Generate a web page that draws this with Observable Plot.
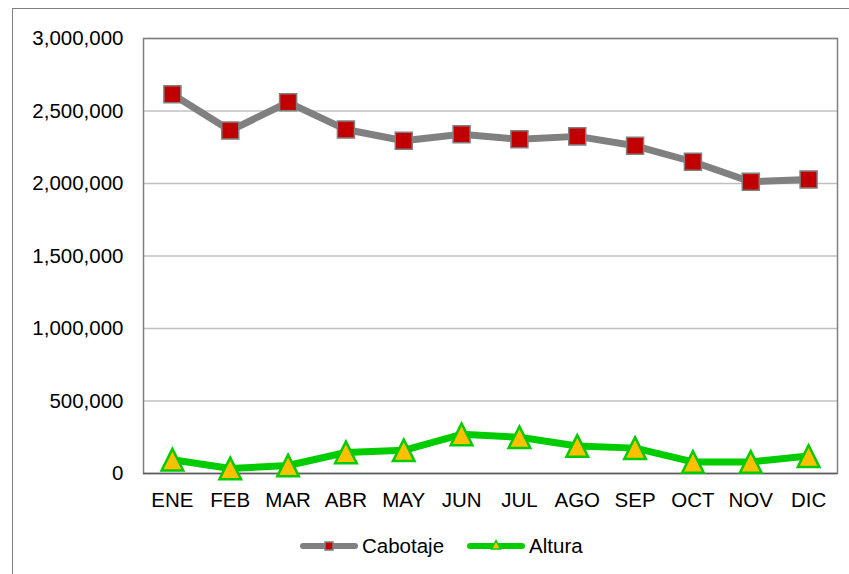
<!DOCTYPE html>
<html>
<head>
<meta charset="utf-8">
<script src="https://cdn.jsdelivr.net/npm/d3@7"></script>
<script src="https://cdn.jsdelivr.net/npm/@observablehq/plot@0.6"></script>
<style>
  html, body { margin: 0; padding: 0; background: #fff; }
  body { width: 849px; height: 574px; position: relative; overflow: hidden; font-family: "Liberation Sans", Arial, sans-serif; }
  #frame { position: absolute; left: 12px; top: 8px; width: 900px; height: 700px; border-left: 1px solid #808080; border-top: 1px solid #808080; box-sizing: border-box; }
  #chart { position: absolute; left: 0; top: 0; }
  #legend { position: absolute; left: 300px; top: 533px; height: 26px; display: flex; align-items: center; font-size: 20.5px; color: #000; }
  #legend .item { display: flex; align-items: center; }
  #legend svg { display: block; }
</style>
</head>
<body>
<div id="frame"></div>
<div id="chart"></div>
<div id="legend"></div>
<script>
const months = ["ENE","FEB","MAR","ABR","MAY","JUN","JUL","AGO","SEP","OCT","NOV","DIC"];
const cabotaje = [2615000, 2365000, 2560000, 2372000, 2295000, 2340000, 2305000, 2325000, 2260000, 2150000, 2012000, 2028000];
const altura = [95000, 35000, 55000, 145000, 160000, 270000, 250000, 190000, 175000, 80000, 80000, 120000];
const seriesNames = ["Cabotaje", "Altura"];
const yTicks = [0, 500000, 1000000, 1500000, 2000000, 2500000, 3000000];

const rows = [];
months.forEach((m, i) => {
  rows.push({month: m, series: "Cabotaje", value: cabotaje[i]});
  rows.push({month: m, series: "Altura", value: altura[i]});
});
const cab = rows.filter(d => d.series === "Cabotaje");
const alt = rows.filter(d => d.series === "Altura");

const squareSym = {draw(ctx, size) { const s = Math.sqrt(size); ctx.rect(-s/2, -s/2, s, s); }};
const triSym = {draw(ctx, size) { const s = Math.sqrt(size); ctx.moveTo(0, -s/2); ctx.lineTo(s/2, s/2); ctx.lineTo(-s/2, s/2); ctx.closePath(); }};

const chart = Plot.plot({
  width: 849,
  height: 520,
  marginLeft: 143,
  marginRight: 12,
  marginTop: 38,
  marginBottom: 47,
  style: {fontFamily: "'Liberation Sans', Arial, sans-serif", fontSize: "20.5px", color: "#000", background: "transparent"},
  x: {type: "point", domain: months, padding: 0.5, round: false, label: null},
  y: {domain: [0, 3000000], label: null},
  marks: [
    Plot.ruleY(yTicks.filter(t => t > 0), {stroke: "#c0c0c0", strokeWidth: 1.5}),
    Plot.frame({stroke: "#808080", strokeWidth: 1.5}),
    Plot.ruleY([0], {stroke: "#5a5a5a", strokeWidth: 1.5}),
    Plot.axisY({ticks: yTicks, tickSize: 0, tickPadding: 20, tickFormat: d3.format(","), fontSize: 20.5, label: null}),
    Plot.axisX({tickSize: 0, tickPadding: 19, fontSize: 20.5, label: null}),
    Plot.line(cab, {x: "month", y: "value", stroke: "#808080", strokeWidth: 7, strokeLinejoin: "round"}),
    Plot.dot(cab, {x: "month", y: "value", symbol: squareSym, r: 9.6, fill: "#c00000", stroke: "#808080", strokeWidth: 1.5}),
    Plot.line(alt, {x: "month", y: "value", stroke: "#00cc00", strokeWidth: 7, strokeLinejoin: "round"}),
    Plot.dot(alt, {x: "month", y: "value", symbol: triSym, r: 12.2, fill: "#ffc000", stroke: "#00cc00", strokeWidth: 2.5})
  ]
});
document.getElementById("chart").appendChild(chart);

// Legend
const legend = document.getElementById("legend");
const legendStyles = {
  Cabotaje: {stroke: "#808080", fill: "#c00000", mstroke: "#808080", shape: "square"},
  Altura: {stroke: "#00cc00", fill: "#ffc000", mstroke: "#00cc00", shape: "triangle"}
};
seriesNames.forEach((name, i) => {
  const st = legendStyles[name];
  const item = document.createElement("div");
  item.className = "item";
  if (i > 0) item.style.marginLeft = "23px";
  const ns = "http://www.w3.org/2000/svg";
  const svg = document.createElementNS(ns, "svg");
  svg.setAttribute("width", 58); svg.setAttribute("height", 20);
  const line = document.createElementNS(ns, "line");
  line.setAttribute("x1", 3); line.setAttribute("x2", 55); line.setAttribute("y1", 10); line.setAttribute("y2", 10);
  line.setAttribute("stroke", st.stroke); line.setAttribute("stroke-width", 6); line.setAttribute("stroke-linecap", "round");
  svg.appendChild(line);
  let m;
  if (st.shape === "square") {
    m = document.createElementNS(ns, "rect");
    m.setAttribute("x", 25); m.setAttribute("y", 6); m.setAttribute("width", 8); m.setAttribute("height", 8);
  } else {
    m = document.createElementNS(ns, "path");
    m.setAttribute("d", "M29,4.5L33.5,13L24.5,13Z");
  }
  m.setAttribute("fill", st.fill); m.setAttribute("stroke", st.mstroke); m.setAttribute("stroke-width", 1.5);
  svg.appendChild(m);
  item.appendChild(svg);
  const label = document.createElement("span");
  label.textContent = name;
  label.style.marginLeft = "4px";
  item.appendChild(label);
  legend.appendChild(item);
});
</script>
</body>
</html>
